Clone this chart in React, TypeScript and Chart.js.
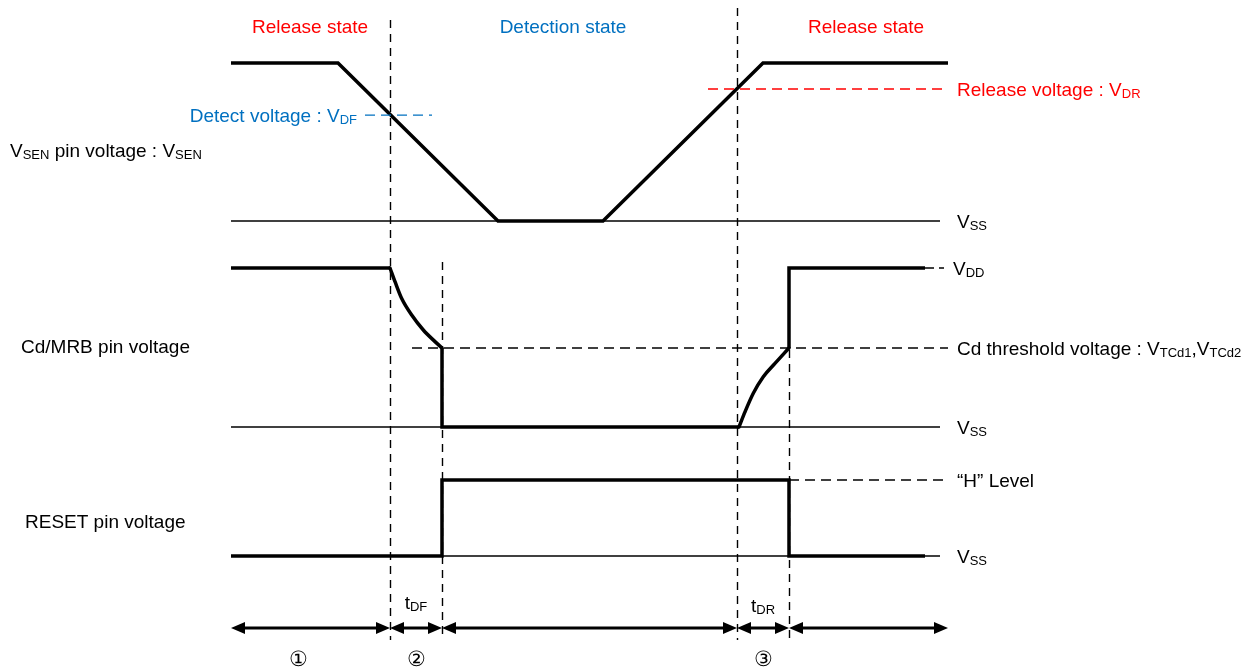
import React, { useEffect, useRef } from "react";
import { Chart, registerables } from "chart.js";

Chart.register(...registerables);

// ---------------- Data (time in arbitrary units, levels normalised to VDD = 1) ----------------
const vsenTimes = [0, 10.7, 26.7, 37.2, 53.2, 71.7];
const vsenLevels = [1, 1, 0, 0, 1, 1];

// Cd/MRB waveform, split into straight parts and the two RC curves
const cdHighTimes = [0, 15.9];
const cdHighLevels = [1, 1];
const cdFallTimes = [15.9, 16.4, 17.07, 18.07, 19.23, 20.4, 21.1];
const cdFallLevels = [1, 0.914, 0.808, 0.704, 0.61, 0.537, 0.497];
const cdLowTimes = [21.1, 21.1, 50.8];
const cdLowLevels = [0.497, 0, 0];
const cdRiseTimes = [50.8, 51.4, 52.23, 53.23, 54.4, 55.8];
const cdRiseLevels = [0, 0.095, 0.212, 0.316, 0.4, 0.497];
const cdStepTimes = [55.8, 55.8, 69.4];
const cdStepLevels = [0.497, 1, 1];

const resetTimes = [0, 21.1, 21.1, 55.8, 55.8, 69.4];
const resetLevels = [0, 0, 1, 1, 0, 0];

const VDF = 0.67; // detect voltage
const VDR = 0.835; // release voltage
const VTCD = 0.497; // Cd threshold voltage
const RESET_H = 1; // "H" level

const vdfRange = [13.4, 20.1];
const vdrRange = [47.7, 71.7];
const vtcdRange = [18.1, 71.7];
const hRange = [55.8, 71.7];
const vddRange = [69.4, 71.3];
const vssEnd = 70.9;

// marker times: tDF start, tDF end, tDR start, tDR end
const markerTimes = [15.9, 21.1, 50.6, 55.8];
const intervalBounds = [0, 15.9, 21.1, 50.6, 55.8, 71.7];

const stateLabels = ["Release state", "Detection state", "Release state"];
const stateCenters = [7.9, 33.2, 63.5];
const intervalNames = ["①", "②", "③"];
const intervalCenters = [6.7, 18.5, 53.2];

// ---------------- Layout ----------------
const W = 1243;
const H = 669;
const X0_PX = 231;
const PX_PER_T = 10;
const FONT = '"Liberation Sans", Arial, sans-serif';
const RED = "#ff0000";
const BLUE = "#0070c0";

const rows = {
  sen: { zero: 221, ppu: 158 },
  cd: { zero: 427, ppu: 159 },
  rst: { zero: 556, ppu: 76 },
};
const markerExtents = [
  [20, 640],
  [262, 640],
  [8, 640],
  [350, 640],
];
const arrowY = 628;

function axisFor(r: { zero: number; ppu: number }) {
  return {
    type: "linear" as const,
    display: false,
    min: -(H - r.zero) / r.ppu,
    max: r.zero / r.ppu,
  };
}

function pts(xs: number[], ys: number[]) {
  return xs.map((x, i) => ({ x, y: ys[i] }));
}

function hline(range: number[], level: number) {
  return [
    { x: range[0], y: level },
    { x: range[1], y: level },
  ];
}

type Seg = { t: string; sub?: boolean };

function drawRich(
  ctx: CanvasRenderingContext2D,
  segs: Seg[],
  x: number,
  cy: number,
  align: "left" | "center" | "right",
  color: string
) {
  const main = `19px ${FONT}`;
  const sub = `13px ${FONT}`;
  let w = 0;
  for (const s of segs) {
    ctx.font = s.sub ? sub : main;
    w += ctx.measureText(s.t).width;
  }
  let cx = align === "left" ? x : align === "center" ? x - w / 2 : x - w;
  ctx.fillStyle = color;
  ctx.textAlign = "left";
  ctx.textBaseline = "alphabetic";
  const base = cy + 7;
  for (const s of segs) {
    ctx.font = s.sub ? sub : main;
    ctx.fillText(s.t, cx, s.sub ? base + 2 : base);
    cx += ctx.measureText(s.t).width;
  }
}

const diagramPlugin = {
  id: "diagram",
  beforeDatasetsDraw(chart: any) {
    const ctx: CanvasRenderingContext2D = chart.ctx;
    const xs = chart.scales.x;
    ctx.save();
    ctx.strokeStyle = "#000";
    ctx.lineWidth = 1.4;
    ctx.setLineDash([8, 6]);
    markerTimes.forEach((t, i) => {
      const px = Math.round(xs.getPixelForValue(t)) + 0.5;
      ctx.beginPath();
      ctx.moveTo(px, markerExtents[i][0]);
      ctx.lineTo(px, markerExtents[i][1]);
      ctx.stroke();
    });
    ctx.restore();
  },
  afterDatasetsDraw(chart: any) {
    const ctx: CanvasRenderingContext2D = chart.ctx;
    const xs = chart.scales.x;
    const ySen = chart.scales.ySen;
    const yCd = chart.scales.yCd;
    const yRst = chart.scales.yRst;
    const X = (t: number) => xs.getPixelForValue(t);
    ctx.save();

    // state labels
    stateLabels.forEach((s, i) => {
      drawRich(ctx, [{ t: s }], X(stateCenters[i]), 26, "center", i === 1 ? BLUE : RED);
    });

    // left labels
    drawRich(
      ctx,
      [{ t: "V" }, { t: "SEN", sub: true }, { t: " pin voltage : V" }, { t: "SEN", sub: true }],
      10,
      150,
      "left",
      "#000"
    );
    drawRich(ctx, [{ t: "Cd/MRB pin voltage" }], 21, 346, "left", "#000");
    drawRich(ctx, [{ t: "RESET pin voltage" }], 25, 521, "left", "#000");

    // detect / release voltage
    drawRich(
      ctx,
      [{ t: "Detect voltage : V" }, { t: "DF", sub: true }],
      X(vdfRange[0]) - 8,
      ySen.getPixelForValue(VDF),
      "right",
      BLUE
    );
    const rx = 957;
    drawRich(
      ctx,
      [{ t: "Release voltage : V" }, { t: "DR", sub: true }],
      rx,
      ySen.getPixelForValue(VDR),
      "left",
      RED
    );
    drawRich(ctx, [{ t: "V" }, { t: "SS", sub: true }], rx, ySen.getPixelForValue(0), "left", "#000");
    drawRich(ctx, [{ t: "V" }, { t: "DD", sub: true }], rx - 4, yCd.getPixelForValue(1), "left", "#000");
    drawRich(
      ctx,
      [{ t: "Cd threshold voltage : V" }, { t: "TCd1", sub: true }, { t: ",V" }, { t: "TCd2", sub: true }],
      rx,
      yCd.getPixelForValue(VTCD),
      "left",
      "#000"
    );
    drawRich(ctx, [{ t: "V" }, { t: "SS", sub: true }], rx, yCd.getPixelForValue(0), "left", "#000");
    drawRich(ctx, [{ t: "“H” Level" }], rx, yRst.getPixelForValue(RESET_H), "left", "#000");
    drawRich(ctx, [{ t: "V" }, { t: "SS", sub: true }], rx, yRst.getPixelForValue(0), "left", "#000");

    // tDF / tDR
    drawRich(
      ctx,
      [{ t: "t" }, { t: "DF", sub: true }],
      (X(markerTimes[0]) + X(markerTimes[1])) / 2,
      602,
      "center",
      "#000"
    );
    drawRich(
      ctx,
      [{ t: "t" }, { t: "DR", sub: true }],
      (X(markerTimes[2]) + X(markerTimes[3])) / 2,
      605,
      "center",
      "#000"
    );

    // interval arrows
    ctx.strokeStyle = "#000";
    ctx.fillStyle = "#000";
    ctx.lineWidth = 3;
    ctx.setLineDash([]);
    const headL = 14;
    const headW = 6;
    for (let i = 0; i < intervalBounds.length - 1; i++) {
      const a = X(intervalBounds[i]);
      const b = X(intervalBounds[i + 1]);
      ctx.beginPath();
      ctx.moveTo(a + headL - 2, arrowY);
      ctx.lineTo(b - headL + 2, arrowY);
      ctx.stroke();
      ctx.beginPath();
      ctx.moveTo(a, arrowY);
      ctx.lineTo(a + headL, arrowY - headW);
      ctx.lineTo(a + headL, arrowY + headW);
      ctx.closePath();
      ctx.fill();
      ctx.beginPath();
      ctx.moveTo(b, arrowY);
      ctx.lineTo(b - headL, arrowY - headW);
      ctx.lineTo(b - headL, arrowY + headW);
      ctx.closePath();
      ctx.fill();
    }

    intervalNames.forEach((n, i) => {
      ctx.font = `21px ${FONT}`;
      ctx.fillStyle = "#000";
      ctx.textAlign = "center";
      ctx.textBaseline = "middle";
      ctx.fillText(n, X(intervalCenters[i]), 660);
    });

    ctx.restore();
  },
};

export default function App() {
  const ref = useRef<HTMLCanvasElement>(null);

  useEffect(() => {
    document.body.style.margin = "0";
    const canvas = ref.current;
    if (!canvas) return;

    const thick = { borderColor: "#000", borderWidth: 3.5, borderJoinStyle: "miter" as const };
    const curve = {
      borderColor: "#000",
      borderWidth: 3.5,
      borderCapStyle: "round" as const,
      cubicInterpolationMode: "monotone" as const,
    };
    const thin = { borderColor: "#000", borderWidth: 1.4 };
    const dash = [10, 6];

    const chart = new Chart(canvas, {
      type: "scatter",
      data: {
        datasets: [
          { ...thin, data: hline([0, vssEnd], 0), yAxisID: "ySen" },
          { borderColor: BLUE, borderWidth: 1.4, borderDash: dash, data: hline(vdfRange, VDF), yAxisID: "ySen" },
          { borderColor: RED, borderWidth: 1.4, borderDash: dash, data: hline(vdrRange, VDR), yAxisID: "ySen" },
          { ...thick, data: pts(vsenTimes, vsenLevels), yAxisID: "ySen" },
          { ...thin, data: hline([0, vssEnd], 0), yAxisID: "yCd" },
          { ...thin, borderDash: dash, data: hline(vtcdRange, VTCD), yAxisID: "yCd" },
          { ...thin, borderDash: [9, 5], data: hline(vddRange, 1), yAxisID: "yCd" },
          { ...thick, data: pts(cdHighTimes, cdHighLevels), yAxisID: "yCd" },
          { ...curve, data: pts(cdFallTimes, cdFallLevels), yAxisID: "yCd" },
          { ...thick, data: pts(cdLowTimes, cdLowLevels), yAxisID: "yCd" },
          { ...curve, data: pts(cdRiseTimes, cdRiseLevels), yAxisID: "yCd" },
          { ...thick, data: pts(cdStepTimes, cdStepLevels), yAxisID: "yCd" },
          { ...thin, data: hline([0, vssEnd], 0), yAxisID: "yRst" },
          { ...thin, borderDash: dash, data: hline(hRange, RESET_H), yAxisID: "yRst" },
          { ...thick, data: pts(resetTimes, resetLevels), yAxisID: "yRst" },
        ].map((d: any) => ({
          tension: 0,
          ...d,
          showLine: true,
          pointRadius: 0,
          pointHoverRadius: 0,
          fill: false,
          clip: false,
        })),
      },
      options: {
        animation: false,
        responsive: false,
        maintainAspectRatio: false,
        devicePixelRatio: 1,
        layout: { padding: 0 },
        events: [],
        plugins: {
          legend: { display: false },
          tooltip: { enabled: false },
          title: { display: false },
        },
        scales: {
          x: {
            type: "linear",
            display: false,
            min: -X0_PX / PX_PER_T,
            max: (W - X0_PX) / PX_PER_T,
          },
          ySen: axisFor(rows.sen),
          yCd: axisFor(rows.cd),
          yRst: axisFor(rows.rst),
        },
      },
      plugins: [diagramPlugin],
    });

    return () => chart.destroy();
  }, []);

  return (
    <div style={{ width: W, height: H, overflow: "hidden", background: "#fff" }}>
      <canvas ref={ref} width={W} height={H} style={{ display: "block", width: W, height: H }} />
    </div>
  );
}
